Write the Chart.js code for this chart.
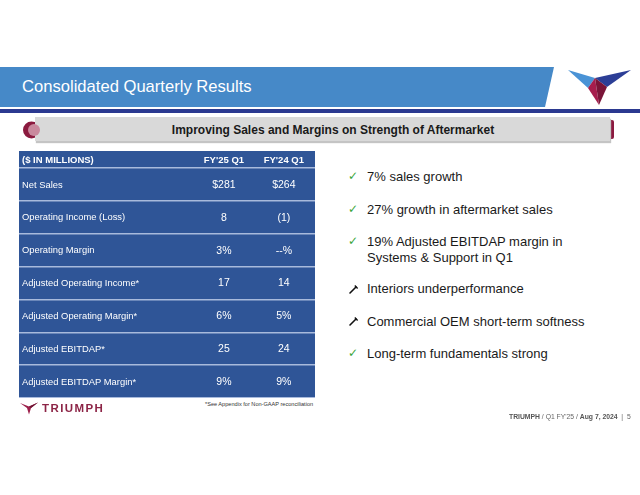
<!DOCTYPE html>
<html>
<head>
<meta charset="utf-8">
<script src="https://cdn.jsdelivr.net/npm/chart.js@4.4.1/dist/chart.umd.min.js"></script>
<style>
  html, body { margin: 0; padding: 0; background: #fff; }
  body { width: 640px; height: 495px; position: relative; overflow: hidden; font-family: "Liberation Sans", Arial, sans-serif; }
  .abs { position: absolute; }
  #title { left: 22px; top: 77px; font-size: 16.6px; color: #fff; white-space: nowrap; }
  #subtitle { left: 35px; top: 117px; width: 575px; height: 24px; background: #d9d9d9; box-shadow: 1px 2px 1px #c4c4c4; }
  #subtitleText { left: 35px; top: 123px; width: 596px; text-align: center; font-size: 12px; font-weight: bold; color: #1a1a1a; white-space: nowrap; }
  #tableBox { left: 19px; top: 151px; width: 296px; height: 247px; }
  #footnote { left: 205px; top: 401px; font-size: 5.6px; color: #333; white-space: nowrap; }
  #footer { left: 509px; top: 413px; font-size: 6.8px; color: #666; white-space: nowrap; }
  #footer b { color: #555; }
  .bullet { position: absolute; left: 367px; font-size: 13px; color: #1a1a1a; white-space: nowrap; line-height: 16px; }
  .chk { position: absolute; left: 348px; font-family: "DejaVu Sans", sans-serif; font-size: 12px; color: #3aa53a; line-height: 16px; }
  .tool { position: absolute; left: 348px; }
  #brand { left: 42px; top: 402px; font-size: 11.5px; font-weight: bold; letter-spacing: 1.4px; color: #8c2446; white-space: nowrap; }
</style>
</head>
<body>
<svg class="abs" style="left:0;top:0" width="640" height="495">
  <polygon points="0,67 554,67 545,107 0,107" fill="#4689c8"/>
  <rect x="0" y="109" width="640" height="4" fill="#2b3990"/>
  <polygon points="568,70 595,78 588,88" fill="#4a93d6"/>
  <polygon points="631,70 595,78 607,87" fill="#2c3e96"/>
  <polygon points="595,78 588,88 599,105" fill="#a61d4d"/>
  <polygon points="595,78 607,87 599,105" fill="#7a1438"/>
  <circle cx="31.5" cy="130" r="8.5" fill="#8b1a3f"/>
  <rect x="609" y="120" width="5" height="19" rx="2" fill="#8b1a3f"/>
</svg>
<div id="subtitle" class="abs"></div>
<svg class="abs" style="left:0;top:0" width="60" height="160">
  <circle cx="34" cy="130" r="6" fill="#c9899d"/>
</svg>
<div id="title" class="abs">Consolidated Quarterly Results</div>
<div id="subtitleText" class="abs">Improving Sales and Margins on Strength of Aftermarket</div>

<div id="tableBox" class="abs"><canvas id="c" width="296" height="247"></canvas></div>
<div id="footnote" class="abs">*See Appendix for Non-GAAP reconciliation</div>

<svg class="abs" style="left:0;top:0" width="60" height="420">
  <polygon points="20,403 29,406.5 38,402.5 31,408 29,414.5 27,408" fill="#9c1f4a"/>
  <polygon points="29,406.5 38,402.5 31,408" fill="#6e1533"/>
</svg>
<div id="brand" class="abs">TRIUMPH</div>

<span class="chk" style="top:168px">✓</span><div class="bullet" style="top:169px">7% sales growth</div>
<span class="chk" style="top:201px">✓</span><div class="bullet" style="top:202px">27% growth in aftermarket sales</div>
<span class="chk" style="top:233px">✓</span><div class="bullet" style="top:234px">19% Adjusted EBITDAP margin in<br>Systems &amp; Support in Q1</div>
<svg class="tool" style="top:283px" width="12" height="12"><path d="M2,10 L8,4" stroke="#111" stroke-width="1.6" stroke-linecap="round"/><path d="M6.8,2.6 L9.6,5.4" stroke="#111" stroke-width="1.4"/></svg><div class="bullet" style="top:281px">Interiors underperformance</div>
<svg class="tool" style="top:315px" width="12" height="12"><path d="M2,10 L8,4" stroke="#111" stroke-width="1.6" stroke-linecap="round"/><path d="M6.8,2.6 L9.6,5.4" stroke="#111" stroke-width="1.4"/></svg><div class="bullet" style="top:314px">Commercial OEM short-term softness</div>
<span class="chk" style="top:345px">✓</span><div class="bullet" style="top:346px">Long-term fundamentals strong</div>

<div id="footer" class="abs"><b>TRIUMPH</b> / Q1 FY'25 / <b>Aug 7, 2024</b> &nbsp;|&nbsp; 5</div>

<script>
const headerLabel = '($ IN MILLIONS)';
const columnHeaders = ["FY'25 Q1", "FY'24 Q1"];
const rowLabels = ['Net Sales', 'Operating Income (Loss)', 'Operating Margin', 'Adjusted Operating Income*', 'Adjusted Operating Margin*', 'Adjusted EBITDAP*', 'Adjusted EBITDAP Margin*'];
const fy25Q1 = ['$281', '8', '3%', '17', '6%', '25', '9%'];
const fy24Q1 = ['$264', '(1)', '--%', '14', '5%', '24', '9%'];
const columns = [fy25Q1, fy24Q1];

const TABLE_BG = '#2f5597';
const FONT = '"Liberation Sans", Arial, sans-serif';

const tablePlugin = {
  id: 'tablePlugin',
  beforeDraw(chart) {
    const ctx = chart.ctx;
    ctx.save();
    ctx.fillStyle = TABLE_BG;
    ctx.fillRect(0, 0, chart.width, chart.height);
    ctx.restore();
  },
  afterDatasetsDraw(chart) {
    const ctx = chart.ctx;
    const xs = chart.scales.x;
    const ys = chart.scales.y;
    ctx.save();
    ctx.fillStyle = '#ffffff';
    ctx.textBaseline = 'middle';
    const hy = chart.chartArea.top / 2 + 0.5;
    ctx.font = 'bold 9.5px ' + FONT;
    ctx.textAlign = 'left';
    ctx.fillText(headerLabel, 3, hy);
    ctx.textAlign = 'center';
    columnHeaders.forEach((h, i) => ctx.fillText(h, xs.getPixelForValue(i + 1), hy));
    ctx.font = '9.4px ' + FONT;
    ctx.textAlign = 'left';
    rowLabels.forEach((r, i) => ctx.fillText(r, chart.chartArea.left + 3, ys.getPixelForValue(i) + 0.5));
    ctx.font = '10.5px ' + FONT;
    ctx.textAlign = 'center';
    chart.data.datasets.forEach((ds, d) => {
      const meta = chart.getDatasetMeta(d);
      meta.data.forEach((el, i) => {
        ctx.fillText(columns[d][i], el.x, el.y + 0.5);
      });
    });
    ctx.restore();
  }
};

new Chart(document.getElementById('c'), {
  type: 'scatter',
  data: {
    datasets: columns.map((col, d) => ({
      label: columnHeaders[d],
      data: col.map((v, i) => ({ x: d + 1, y: rowLabels[i] })),
      pointRadius: 0,
      pointHoverRadius: 0
    }))
  },
  options: {
    responsive: false,
    animation: false,
    events: [],
    devicePixelRatio: 1,
    layout: { padding: { top: 17, left: 0, right: 0, bottom: 0 } },
    plugins: { legend: { display: false }, tooltip: { enabled: false }, title: { display: false } },
    scales: {
      x: { type: 'linear', min: -2.42, max: 2.52, display: false },
      y: {
        type: 'category',
        labels: rowLabels,
        offset: true,
        position: 'left',
        border: { display: false },
        grid: {
          offset: true,
          drawTicks: false,
          lineWidth: 1.5,
          color: (c) => (c.index === rowLabels.length ? 'rgba(0,0,0,0)' : '#a8badc')
        },
        ticks: { display: false }
      }
    }
  },
  plugins: [tablePlugin]
});
</script>
</body>
</html>
